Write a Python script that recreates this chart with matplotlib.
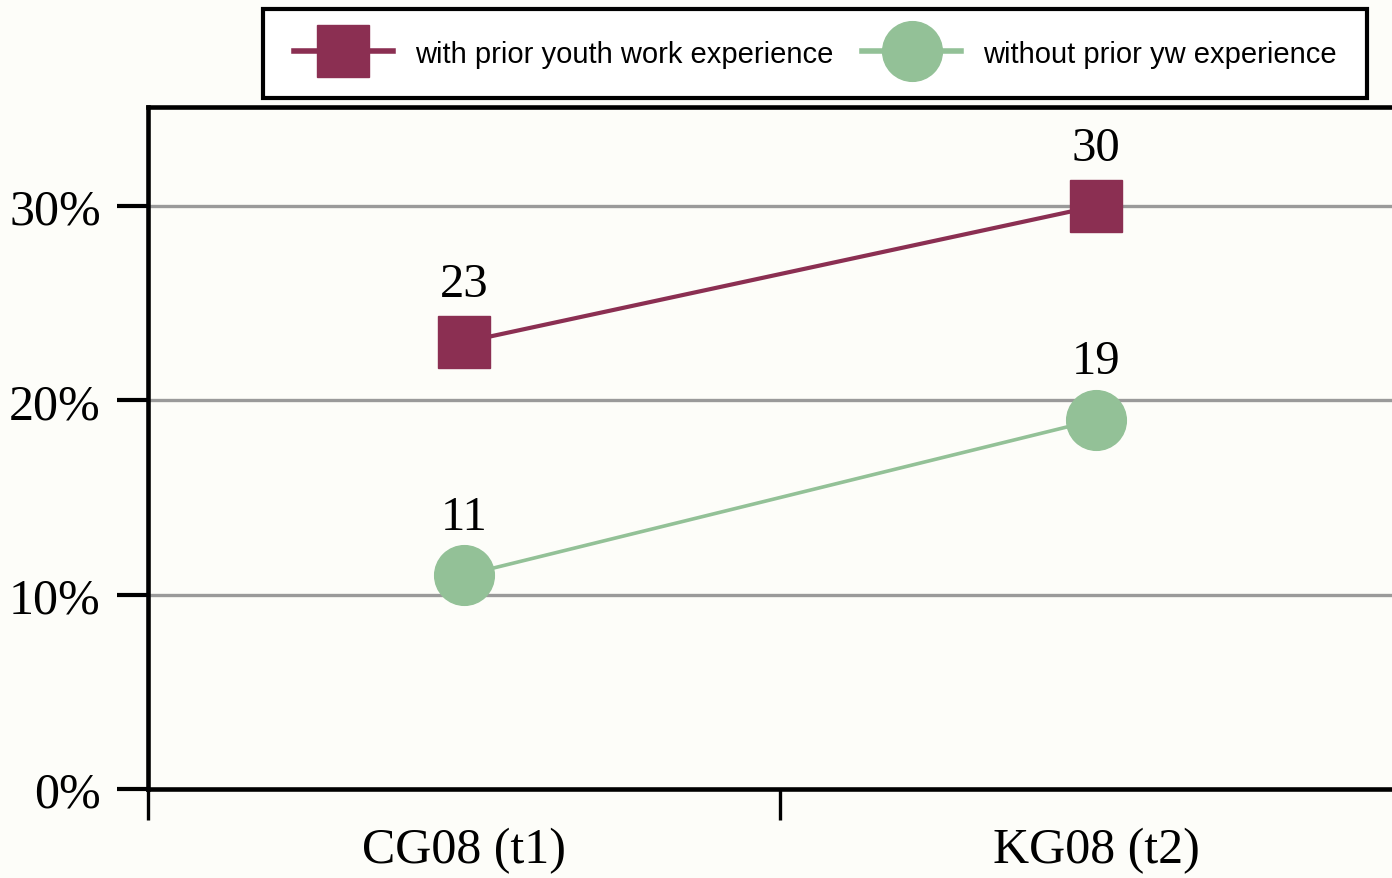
import matplotlib
matplotlib.use('Agg')
import matplotlib.pyplot as plt
from matplotlib.ticker import FixedLocator

# Данные
categories = ['CG08 (t1)', 'KG08 (t2)']
with_yw = [23, 30]
without_yw = [11, 19]
label_with = 'with prior youth work experience'
label_without = 'without prior yw experience'

bg = '#fdfdf9'
maroon = '#8b2f52'
green = '#93c197'

fig = plt.figure(figsize=(13.92, 8.79), dpi=100, facecolor=bg)
ax = fig.add_axes([148 / 1392, 89 / 879, 1264 / 1392, 682 / 879], facecolor=bg)

x = list(range(len(categories)))
ax.plot(x, with_yw, color=maroon, lw=3, marker='s', markersize=37, label=label_with, zorder=4)
ax.plot(x, without_yw, color=green, lw=2.6, marker='o', markersize=43, label=label_without, zorder=4)

# подписи значений
for xi, v in zip(x, with_yw):
    ax.annotate(str(v), (xi, v), xytext=(0, 42), textcoords='offset points',
                ha='center', va='center', fontsize=35, family='Liberation Serif')
for xi, v in zip(x, without_yw):
    ax.annotate(str(v), (xi, v), xytext=(0, 42), textcoords='offset points',
                ha='center', va='center', fontsize=35, family='Liberation Serif')

# оси
ax.set_xlim(-0.5, 1.5)
ax.set_ylim(0, 35.1)
ax.set_yticks([0, 10, 20, 30])
ax.set_yticklabels(['0%', '10%', '20%', '30%'])
ax.set_xticks(x)
ax.set_xticklabels(categories)
ax.xaxis.set_minor_locator(FixedLocator([-0.5, 0.5, 1.5]))
ax.tick_params(axis='x', which='major', length=0, pad=27, labelsize=36)
ax.tick_params(axis='x', which='minor', length=22, width=2.4, color='black')
ax.tick_params(axis='y', length=22, width=3, pad=12, labelsize=36)
for lab in ax.get_xticklabels() + ax.get_yticklabels():
    lab.set_family('Liberation Serif')

for yv in [10, 20, 30]:
    ax.axhline(yv, color='#9a9a9a', lw=2.4, zorder=1)

for s in ['left', 'bottom', 'top']:
    ax.spines[s].set_linewidth(3.3)
    ax.spines[s].set_color('black')
ax.spines['right'].set_visible(False)

leg = ax.legend(loc='upper left', bbox_to_anchor=(263 / 1392, 1 - 10 / 879),
                bbox_transform=fig.transFigure, borderaxespad=0, ncol=2, frameon=True,
                prop={'family': 'Liberation Sans', 'size': 21},
                handlelength=3.4, handletextpad=0.75, columnspacing=1.0,
                fancybox=False, borderpad=1.05, framealpha=1)
leg.get_frame().set_edgecolor('black')
leg.get_frame().set_linewidth(3)
leg.get_frame().set_facecolor('white')
for ln in leg.get_lines():
    ln.set_linewidth(4)

plt.savefig('out.png', dpi=100, facecolor=bg)
